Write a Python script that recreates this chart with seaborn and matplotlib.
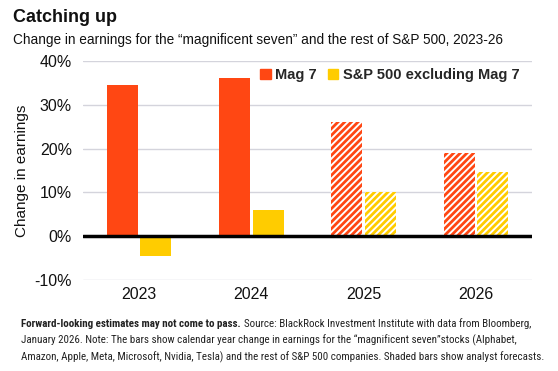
import pandas as pd
import matplotlib.pyplot as plt
import seaborn as sns
from matplotlib.patches import Patch
from matplotlib import font_manager

# ==================================================
# Daten
# ==================================================
years = ["2023", "2024", "2025", "2026"]
mag7 = [34.6, 36.2, 26.0, 18.9]
sp500_ex = [-4.5, 6.0, 10.0, 14.7]
forecast_years = ["2025", "2026"]
series_names = ["Mag 7", "S&P 500 excluding Mag 7"]
y_ticks = [-10, 0, 10, 20, 30, 40]

RED = "#ff4713"
YELLOW = "#ffcc00"

sns.set_theme(style="whitegrid")
plt.rcParams["font.family"] = ["Liberation Sans", "DejaVu Sans"]
plt.rcParams["hatch.linewidth"] = 2.0

# schmale Schrift für die Fußnote, falls vorhanden
names = {f.name for f in font_manager.fontManager.ttflist}
NARROW = "Roboto"
for cand in ["Liberation Sans Narrow", "Roboto Condensed", "Open Sans Condensed"]:
    if cand in names:
        NARROW = cand
        break

df = pd.DataFrame({
    "Year": years * 2,
    "Change": mag7 + sp500_ex,
    "Series": [series_names[0]] * len(years) + [series_names[1]] * len(years),
})

fig = plt.figure(figsize=(5.58, 3.71), dpi=100)
ax = fig.add_axes([83 / 558, 1 - 280 / 371, 449 / 558, 219 / 371])

sns.barplot(data=df, x="Year", y="Change", hue="Series", order=years,
            hue_order=series_names, palette=[RED, YELLOW], width=0.6, gap=0.08,
            legend=False, ax=ax, saturation=1, linewidth=0)

# Prognose-Balken schraffiert
for cont, color in zip(ax.containers, [RED, YELLOW]):
    for bar, yr in zip(cont, years):
        if yr in forecast_years:
            bar.set_facecolor("white")
            bar.set_edgecolor(color)
            bar.set_hatch("/////")
            bar.set_linewidth(0)

ax.set_ylim(-10, 40)
ax.set_yticks(y_ticks)
ax.set_yticklabels([f"{t}%" for t in y_ticks])
ax.set_xlim(-0.5, len(years) - 0.5)
ax.grid(axis="y", color="#d4d4dc", linewidth=1)
ax.grid(axis="x", visible=False)
ax.axhline(0, color="black", linewidth=2.5, zorder=5)
for s in ax.spines.values():
    s.set_visible(False)
ax.tick_params(axis="both", length=0, labelsize=11.5, colors="#111111")
ax.tick_params(axis="y", pad=8)
ax.tick_params(axis="x", pad=5)
ax.set_xlabel("")
ax.set_ylabel("Change in earnings", fontsize=11, color="#111111", labelpad=4)

handles = [Patch(color=RED), Patch(color=YELLOW)]
ax.legend(handles, series_names, loc="upper right", bbox_to_anchor=(0.985, 0.995), ncol=2,
          frameon=False, prop={"weight": "bold", "size": 10.5}, handlelength=0.7,
          handleheight=0.7, handletextpad=0.3, columnspacing=0.8, borderaxespad=0)

fig.text(13 / 558, 1 - 17 / 371, "Catching up", fontsize=13, weight="bold",
         va="center", ha="left", color="#111111")
fig.text(13 / 558, 1 - 40 / 371,
         "Change in earnings for the \u201cmagnificent seven\u201d and the rest of S&P 500, 2023-26",
         fontsize=9.8, va="center", ha="left", color="#111111")

# Fußnote: gemeinsame Schriftgröße, längste Zeile endet bei ~545 px
foot_lines = [
    [("Forward-looking estimates may not come to pass.", "bold"),
     ("Source: BlackRock Investment Institute with data from Bloomberg,", "normal")],
    [("January 2026. Note: The bars show calendar year change in earnings for the "
      "\u201cmagnificent seven\u201dstocks (Alphabet,", "normal")],
    [("Amazon, Apple, Meta, Microsoft, Nvidia, Tesla) and the rest of S&P 500 companies. "
      "Shaded bars show analyst forecasts.", "normal")],
]
foot_y = [324, 340, 357]


def draw_footer(size):
    texts = []
    for parts, y in zip(foot_lines, foot_y):
        x = 21
        for s, w in parts:
            t = fig.text(x / 558, 1 - y / 371, s, fontsize=size, weight=w, family=NARROW,
                         va="center", ha="left", color="#222222")
            fig.canvas.draw()
            x = t.get_window_extent().x1 + 3
            texts.append(t)
    fig.canvas.draw()
    return texts, max(t.get_window_extent().x1 for t in texts)


size = 8.0
texts, right = draw_footer(size)
for t in texts:
    t.remove()
size = size * (545 - 21) / (right - 21)
draw_footer(size)

fig.savefig("out.png", dpi=100)
